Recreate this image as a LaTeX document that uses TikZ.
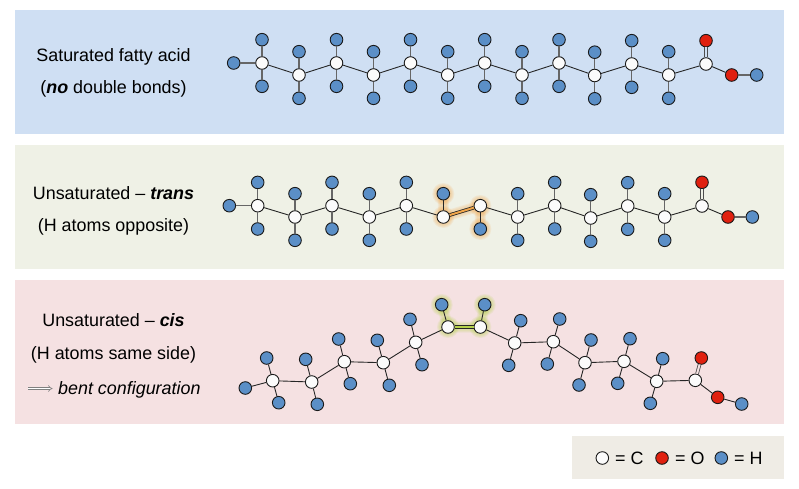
\documentclass[tikz,border=0pt]{standalone}
\usepackage{fontspec}
\setmainfont{Liberation Sans}
\usetikzlibrary{arrows.meta}
\usetikzlibrary{backgrounds}
\definecolor{panelblue}{HTML}{CFDFF3}
\definecolor{panelgreen}{HTML}{EFF1E6}
\definecolor{panelred}{HTML}{F5E1E2}
\definecolor{panelgrey}{HTML}{EFECE5}
\definecolor{hblue}{HTML}{5B8FC7}
\definecolor{ored}{HTML}{E0200F}
\definecolor{cwhite}{HTML}{FBFBFB}
\definecolor{glowor}{HTML}{F2A64A}
\definecolor{glowgr}{HTML}{B5D24A}
\begin{document}
\begin{tikzpicture}[
  x=1pt,y=-1pt,
  atom/.style={circle,draw=black!90,line width=.9pt,inner sep=0pt,minimum size=12.6pt},
  carb/.style={atom,fill=cwhite},
  oxy/.style={atom,fill=ored},
  hyd/.style={atom,fill=hblue},
  ccbond/.style={draw=black!85,line width=.9pt},
  chbond/.style={draw=black!60,line width=1.2pt},
  dblbond/.style={double=#1,double distance=2pt,draw=black!70,line width=.8pt},
  panel/.style={fill=#1,draw=none},
  label/.style={anchor=base,font=\fontsize{17.9}{20}\selectfont,inner sep=0pt},
  halo/.style={line cap=round,line join=round,draw=#1,opacity=.12}]
  \useasboundingbox (0,0) rectangle (799,489);
  % draw the panels
  \begin{pgfonlayer}{background}
    \fill[panel=white] (0,0) rectangle (799,489);
    \fill[panel=panelblue] (15,10) rectangle (784,134);
    \fill[panel=panelgreen] (15,145) rectangle (784,269);
    \fill[panel=panelred] (15,280) rectangle (784,424);
    \fill[panel=panelgrey] (572,436) rectangle (784,479);
  \end{pgfonlayer}
  % draw panel texts
  \node[label] (sat1) at (113.5,62) {Saturated fatty acid};
  \node[label] (sat2) at (113.5,94) {(\textbf{\textit{no}} double bonds)};
  \node[label] (tra1) at (113.5,199.3) {Unsaturated – \textbf{\textit{trans}}};
  \node[label] (tra2) at (113.5,231) {(H atoms opposite)};
  \node[label] (cis1) at (113.5,326.7) {Unsaturated – \textbf{\textit{cis}}};
  \node[label] (cis2) at (113.5,359.3) {(H atoms same side)};
  \node[label,anchor=base west] (bent) at (58,394) {\textit{bent configuration}};
  \coordinate (arrs) at (28,388.5);
  \coordinate (arre) at (52.5,388.5);
  \draw[double=white,double distance=1.6pt,draw=black!50,line width=.6pt,-{Implies}] (arrs) -- (arre);
  % draw saturated chain
  \foreach \x/\y [count=\step from 1] in {262/63,299/75,336.5/63,373.5/75,410.5/63,447.7/75,484.7/63,522/75,559/63,594.7/75.5,631.7/64,668.7/75,706/64}
    \node[carb] (a\step) at (\x,\y) {};
  \foreach \step in {1,...,12} {
    \node[hyd] (au\step) at ([yshift=23.3pt]a\step) {};
    \node[hyd] (ad\step) at ([yshift=-23.3pt]a\step) {};
    \draw[chbond] (a\step) -- (au\step);
    \draw[chbond] (a\step) -- (ad\step);
  }
  \foreach \step in {1,...,12} {
    \pgfmathtruncatemacro{\next}{add(\step,1)}
    \draw[ccbond] (a\step) -- (a\next);
  }
  \node[hyd] (al) at (233.7,63) {};
  \node[oxy] (aod) at (706,40.7) {};
  \node[oxy] (aos) at (731.7,75) {};
  \node[hyd] (ah) at (756.7,75) {};
  \draw[chbond] (al) -- (a1);
  \draw[dblbond=panelblue] (a13) -- (aod);
  \draw[ccbond] (a13) -- (aos);
  \draw[chbond] (aos) -- (ah);
  % draw trans chain
  \foreach \x/\y [count=\step from 1] in {257.7/205.7,295/217,332/205.7,369.3/217,406.3/205.7,443.3/217,480.3/205.7,517.7/217,554.7/205.7,590.7/218,627.7/206,664.7/217,702/206}
    \node[carb] (b\step) at (\x,\y) {};
  \foreach \step in {1,...,5,8,9,...,12} {
    \node[hyd] (bu\step) at ([yshift=23.3pt]b\step) {};
    \node[hyd] (bd\step) at ([yshift=-23.3pt]b\step) {};
    \draw[chbond] (b\step) -- (bu\step);
    \draw[chbond] (b\step) -- (bd\step);
  }
  \foreach \step in {1,...,5,7,8,...,12} {
    \pgfmathtruncatemacro{\next}{add(\step,1)}
    \draw[ccbond] (b\step) -- (b\next);
  }
  \node[hyd] (bu6) at ([yshift=23.3pt]b6) {};
  \node[hyd] (bd7) at ([yshift=-23.3pt]b7) {};
  \draw[ccbond] (b6) -- (bu6);
  \draw[ccbond] (b7) -- (bd7);
  \draw[dblbond=glowor,draw=black!85] (b6) -- (b7);
  \node[hyd] (bl) at (229.3,205.7) {};
  \node[oxy] (bod) at (702,182.3) {};
  \node[oxy] (bos) at (728,217) {};
  \node[hyd] (bh) at (752.3,217) {};
  \draw[chbond] (bl) -- (b1);
  \draw[dblbond=panelgreen] (b13) -- (bod);
  \draw[ccbond] (b13) -- (bos);
  \draw[chbond] (bos) -- (bh);
  % draw cis chain
  \foreach \x/\y/\ux/\uy/\dx/\dy [count=\step from 1] in {
    272.7/380.7/266.7/358/278.7/402.7,
    311.7/382/305.7/359.3/317.3/404.3,
    344.3/361.7/338.7/339/350.3/383.7,
    383.3/362.7/377.3/340.3/389.3/385.3,
    415.7/342.3/410/319.3/422/364.7} {
    \node[carb] (c\step) at (\x,\y) {};
    \node[hyd] (cu\step) at (\ux,\uy) {};
    \node[hyd] (cd\step) at (\dx,\dy) {};
    \draw[ccbond] (c\step) -- (cu\step);
    \draw[ccbond] (c\step) -- (cd\step);
  }
  \foreach \x/\y/\ux/\uy/\dx/\dy [count=\step from 8] in {
    514.7/343/520.7/320.7/508.7/365.3,
    553.3/341.7/559.7/319/547.3/364,
    585/362.7/591/340/579/385,
    624/361.3/630/338.7/617.7/383.3,
    656.7/381.3/662.7/358.7/650.3/403.3} {
    \node[carb] (c\step) at (\x,\y) {};
    \node[hyd] (cu\step) at (\ux,\uy) {};
    \node[hyd] (cd\step) at (\dx,\dy) {};
    \draw[ccbond] (c\step) -- (cu\step);
    \draw[ccbond] (c\step) -- (cd\step);
  }
  \node[carb] (c6) at (448,327) {};
  \node[carb] (c7) at (480.3,327) {};
  \node[carb] (c13) at (695.3,380.3) {};
  \node[hyd] (cu6) at (441.7,304.7) {};
  \node[hyd] (cu7) at (484.7,304.7) {};
  \draw[ccbond] (c6) -- (cu6);
  \draw[ccbond] (c7) -- (cu7);
  \draw[dblbond=glowgr,draw=black!85] (c6) -- (c7);
  \foreach \step in {1,...,5,7,8,...,12} {
    \pgfmathtruncatemacro{\next}{add(\step,1)}
    \draw[ccbond] (c\step) -- (c\next);
  }
  \node[hyd] (cl) at (245.3,388) {};
  \node[oxy] (cod) at (701.3,358) {};
  \node[oxy] (cos) at (717.7,397.3) {};
  \node[hyd] (ch) at (741.7,404) {};
  \draw[ccbond] (cl) -- (c1);
  \draw[dblbond=panelred] (c13) -- (cod);
  \draw[ccbond] (c13) -- (cos);
  \draw[ccbond] (cos) -- (ch);
  % draw glow around the highlighted atoms
  \begin{pgfonlayer}{background}
    \foreach \w in {11,9,7} {
      \draw[halo=glowor,line width=\w pt] (bu6.center) -- (b6.center) -- (b7.center) -- (bd7.center);
      \draw[halo=glowgr,line width=\w pt] (cu6.center) -- (c6.center) -- (c7.center) -- (cu7.center);
    }
    \foreach \w in {22,20,18,16}
      \foreach \n in {bu6,b6,b7,bd7} {
        \draw[halo=glowor,line width=\w pt] (\n.center) -- ++(.01,0);
      }
    \foreach \w in {22,20,18,16}
      \foreach \n in {cu6,c6,c7,cu7} {
        \draw[halo=glowgr,line width=\w pt] (\n.center) -- ++(.01,0);
      }
  \end{pgfonlayer}
  % draw legend
  \node[carb] (kc) at (602.3,458) {};
  \node[oxy] (ko) at (662,458) {};
  \node[hyd] (kh) at (721.3,458) {};
  \node[label,anchor=base west] (kct) at (615,464) {= C};
  \node[label,anchor=base west] (kot) at (675,464) {= O};
  \node[label,anchor=base west] (kht) at (734,464) {= H};
\end{tikzpicture}
\end{document}
